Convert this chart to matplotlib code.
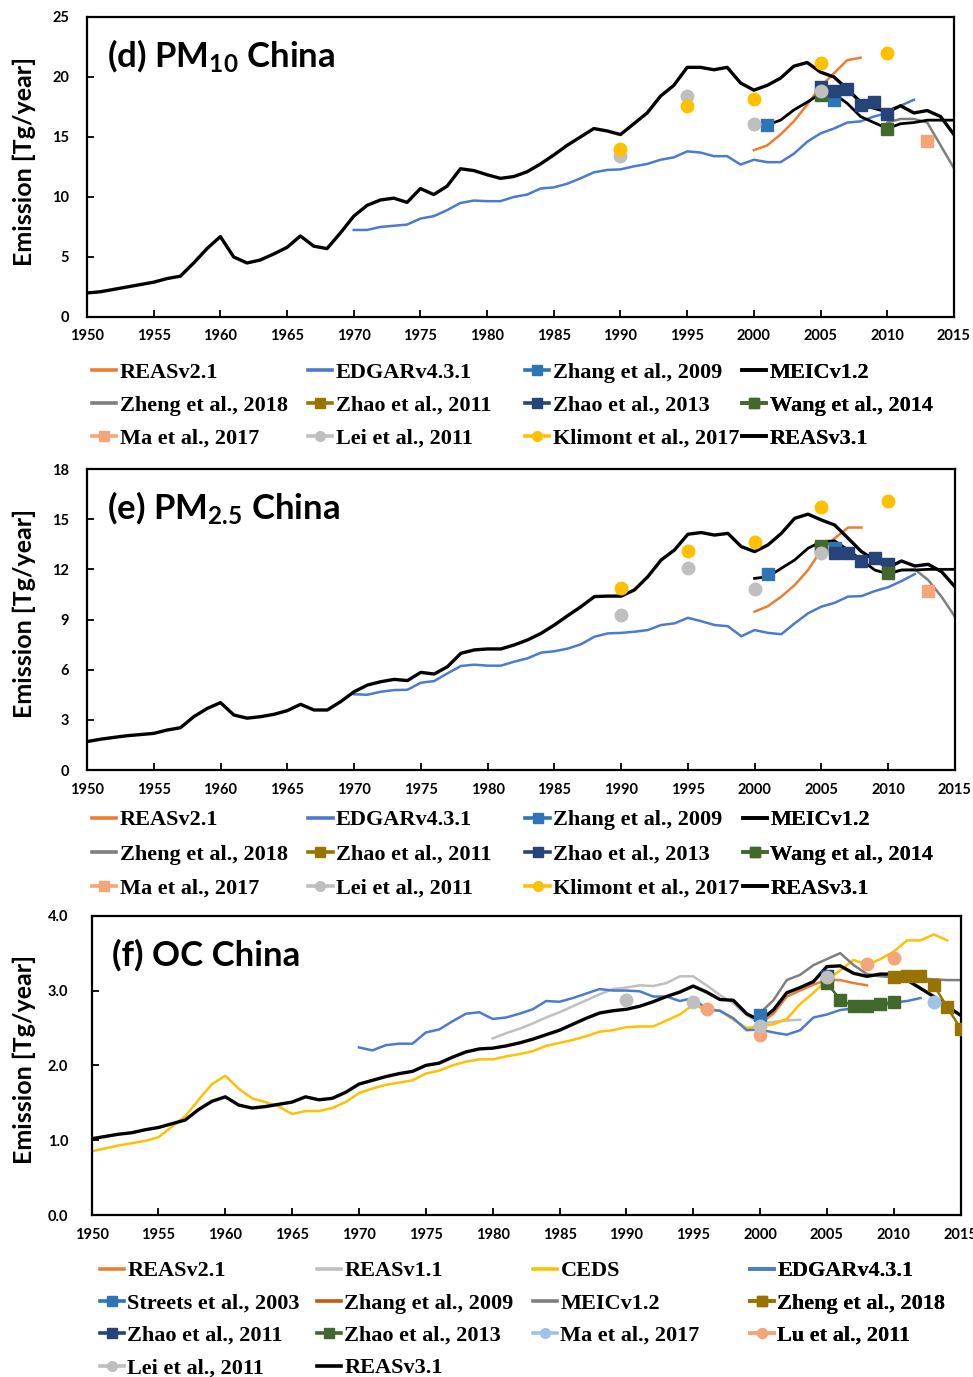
import numpy as np
import matplotlib
matplotlib.use("Agg")
import matplotlib.pyplot as plt
from matplotlib.lines import Line2D

plt.rcParams['font.family'] = ['Lato', 'DejaVu Sans']
plt.rcParams['mathtext.default'] = 'regular'

# Colours (Excel-like palette)
ORANGE = '#ED7D31'
BLUE = '#4A7BD0'
MIDBLUE = '#2E75B6'
NAVY = '#264478'
GREEN = '#43682B'
OLIVE = '#997300'
GRAY = '#7F7F7F'
LGRAY = '#BFBFBF'
YELLOW = '#FFC000'
SALMON = '#F4A57A'
LBLUE = '#9DC3E6'
BROWN = '#C55A11'
BLACK = '#000000'

# ---------------- (d) PM10 ----------------
pm10_reas3_years = list(range(1950, 2016))
pm10_reas3 = [2.0, 2.1, 2.3, 2.5, 2.7, 2.9, 3.2, 3.4, 4.5, 5.7,
              6.7, 5.0, 4.5, 4.75, 5.25, 5.8, 6.75, 5.9, 5.7, 7.0,
              8.4, 9.3, 9.75, 9.9, 9.55, 10.7, 10.2, 10.9, 12.35, 12.2,
              11.85, 11.55, 11.7, 12.1, 12.75, 13.5, 14.3, 15.0, 15.7, 15.5,
              15.2, 16.1, 17.0, 18.4, 19.3, 20.8, 20.8, 20.6, 20.8, 19.5,
              18.9, 19.3, 19.9, 20.9, 21.2, 20.4, 20.0, 19.0, 17.9, 17.4,
              17.1, 17.6, 17.0, 17.2, 16.7, 15.2]
pm10_edgar_years = list(range(1970, 2013))
pm10_edgar = [7.25, 7.25, 7.5, 7.6, 7.7, 8.2, 8.4, 8.9, 9.5, 9.7,
              9.65, 9.65, 10.0, 10.2, 10.7, 10.8, 11.1, 11.55, 12.05, 12.25,
              12.3, 12.55, 12.75, 13.1, 13.3, 13.8, 13.7, 13.4, 13.4, 12.7,
              13.1, 12.9, 12.9, 13.6, 14.6, 15.3, 15.7, 16.2, 16.3, 16.7,
              17.0, 17.6, 18.1]
pm10_reas2_years = list(range(2000, 2009))
pm10_reas2 = [13.9, 14.3, 15.2, 16.3, 17.7, 19.2, 20.3, 21.4, 21.6]
pm10_meic_years = list(range(2000, 2016))
pm10_meic = [16.0, 16.0, 16.4, 17.25, 17.9, 18.6, 18.6, 17.8, 16.7, 16.2,
             15.7, 16.1, 16.2, 16.4, 16.4, 16.4]
pm10_zheng_years = list(range(2010, 2016))
pm10_zheng = [16.2, 16.5, 16.5, 16.2, 14.3, 12.4]
pm10_zhang09_years = [2001, 2006]
pm10_zhang09 = [16.0, 18.1]
pm10_zhao11_years = []
pm10_zhao11 = []
pm10_zhao13_years = [2005, 2006, 2007, 2008, 2009, 2010]
pm10_zhao13 = [19.2, 18.8, 19.0, 17.7, 17.9, 16.9]
pm10_wang14_years = [2005, 2010]
pm10_wang14 = [18.5, 15.7]
pm10_ma17_years = [2013]
pm10_ma17 = [14.7]
pm10_lei11_years = [1990, 1995, 2000, 2005]
pm10_lei11 = [13.45, 18.4, 16.1, 18.8]
pm10_klimont_years = [1990, 1995, 2000, 2005, 2010]
pm10_klimont = [14.0, 17.6, 18.2, 21.2, 22.0]

# ---------------- (e) PM2.5 ----------------
pm25_reas3_years = list(range(1950, 2016))
pm25_reas3 = [1.7, 1.84, 1.95, 2.05, 2.12, 2.19, 2.39, 2.53, 3.19, 3.68,
              4.03, 3.29, 3.1, 3.19, 3.33, 3.55, 3.93, 3.59, 3.59, 4.09,
              4.68, 5.08, 5.28, 5.42, 5.35, 5.84, 5.74, 6.18, 6.98, 7.18,
              7.24, 7.24, 7.48, 7.78, 8.17, 8.67, 9.23, 9.77, 10.37, 10.4,
              10.4, 10.77, 11.56, 12.56, 13.16, 14.1, 14.2, 14.05, 14.15, 13.36,
              13.06, 13.46, 14.15, 15.05, 15.3, 14.95, 14.65, 13.86, 13.06, 12.56,
              12.1, 12.5, 12.2, 12.3, 11.86, 10.96]
pm25_edgar_years = list(range(1970, 2013))
pm25_edgar = [4.53, 4.5, 4.68, 4.78, 4.8, 5.22, 5.32, 5.78, 6.22, 6.3,
              6.24, 6.24, 6.48, 6.68, 7.02, 7.1, 7.26, 7.52, 7.97, 8.17,
              8.2, 8.27, 8.37, 8.67, 8.77, 9.1, 8.9, 8.67, 8.6, 8.0,
              8.37, 8.2, 8.12, 8.77, 9.37, 9.77, 10.0, 10.37, 10.4, 10.7,
              10.93, 11.3, 11.72]
pm25_reas2_years = list(range(2000, 2009))
pm25_reas2 = [9.47, 9.8, 10.37, 11.06, 11.96, 13.16, 13.86, 14.5, 14.5]
pm25_meic_years = list(range(2000, 2016))
pm25_meic = [11.46, 11.56, 12.06, 12.56, 13.26, 13.66, 13.7, 13.16, 12.56, 11.96,
             11.72, 11.96, 11.96, 12.0, 12.0, 12.0]
pm25_zheng_years = list(range(2010, 2016))
pm25_zheng = [11.8, 11.96, 12.0, 11.36, 10.36, 9.17]
pm25_zhang09_years = [2001, 2006]
pm25_zhang09 = [11.7, 13.26]
pm25_zhao11_years = []
pm25_zhao11 = []
pm25_zhao13_years = [2005, 2006, 2007, 2008, 2009, 2010]
pm25_zhao13 = [13.3, 13.0, 13.0, 12.5, 12.7, 12.3]
pm25_wang14_years = [2005, 2010]
pm25_wang14 = [13.4, 11.8]
pm25_ma17_years = [2013]
pm25_ma17 = [10.7]
pm25_lei11_years = [1990, 1995, 2000, 2005]
pm25_lei11 = [9.27, 12.1, 10.8, 12.96]
pm25_klimont_years = [1990, 1995, 2000, 2005, 2010]
pm25_klimont = [10.9, 13.1, 13.66, 15.7, 16.1]

# ---------------- (f) OC ----------------
oc_reas3_years = list(range(1950, 2016))
oc_reas3 = [1.02, 1.05, 1.08, 1.10, 1.14, 1.17, 1.22, 1.27, 1.41, 1.52,
            1.58, 1.47, 1.43, 1.45, 1.48, 1.51, 1.58, 1.54, 1.56, 1.64,
            1.75, 1.80, 1.85, 1.89, 1.92, 2.00, 2.03, 2.11, 2.18, 2.22,
            2.23, 2.26, 2.30, 2.35, 2.41, 2.47, 2.55, 2.63, 2.70, 2.73,
            2.75, 2.79, 2.85, 2.92, 2.98, 3.06, 2.98, 2.88, 2.87, 2.69,
            2.60, 2.74, 2.97, 3.04, 3.12, 3.32, 3.33, 3.23, 3.19, 3.22,
            3.22, 3.14, 3.03, 2.92, 2.79, 2.67]
oc_ceds_years = list(range(1950, 2015))
oc_ceds = [0.85, 0.89, 0.93, 0.96, 0.99, 1.04, 1.18, 1.32, 1.54, 1.75,
           1.86, 1.69, 1.56, 1.51, 1.45, 1.35, 1.39, 1.39, 1.43, 1.51,
           1.63, 1.69, 1.74, 1.77, 1.80, 1.89, 1.93, 2.00, 2.05, 2.08,
           2.08, 2.12, 2.15, 2.19, 2.26, 2.30, 2.34, 2.39, 2.45, 2.47,
           2.51, 2.52, 2.52, 2.60, 2.68, 2.81, 2.74, 2.73, 2.61, 2.50,
           2.52, 2.55, 2.62, 2.82, 2.97, 3.14, 3.27, 3.41, 3.34, 3.42,
           3.52, 3.67, 3.67, 3.75, 3.67]
oc_edgar_years = list(range(1970, 2013))
oc_edgar = [2.24, 2.20, 2.27, 2.29, 2.29, 2.44, 2.48, 2.59, 2.69, 2.71,
            2.62, 2.64, 2.69, 2.75, 2.86, 2.85, 2.90, 2.96, 3.02, 3.00,
            3.00, 2.99, 2.92, 2.92, 2.86, 2.90, 2.75, 2.73, 2.63, 2.47,
            2.48, 2.44, 2.41, 2.47, 2.64, 2.68, 2.74, 2.76, 2.77, 2.79,
            2.84, 2.86, 2.90]
oc_reas1_years = list(range(1980, 2004))
oc_reas1 = [2.36, 2.43, 2.49, 2.56, 2.64, 2.71, 2.79, 2.87, 2.95, 3.02,
            3.04, 3.07, 3.06, 3.10, 3.19, 3.19, 3.07, 2.94, 2.83, 2.67,
            2.56, 2.58, 2.60, 2.61]
oc_meic_years = list(range(2000, 2016))
oc_meic = [2.70, 2.87, 3.14, 3.21, 3.34, 3.42, 3.50, 3.34, 3.22, 3.19,
           3.18, 3.18, 3.16, 3.15, 3.14, 3.14]
oc_reas2_years = list(range(2000, 2009))
oc_reas2 = [2.56, 2.69, 2.92, 3.00, 3.08, 3.14, 3.14, 3.10, 3.07]
oc_zheng_years = list(range(2010, 2016))
oc_zheng = [3.18, 3.19, 3.19, 3.07, 2.78, 2.49]
oc_zhao13_years = list(range(2005, 2011))
oc_zhao13 = [3.10, 2.88, 2.79, 2.79, 2.82, 2.85]
oc_streets_years = [2000]
oc_streets = [2.67]
oc_zhang09_years = []
oc_zhang09 = []
oc_zhao11_years = [2005]
oc_zhao11 = [3.2]
oc_ma17_years = [2013]
oc_ma17 = [2.85]
oc_lu11_years = [1996, 2000, 2008, 2010]
oc_lu11 = [2.76, 2.41, 3.36, 3.44]
oc_lei11_years = [1990, 1995, 2000, 2005]
oc_lei11 = [2.87, 2.85, 2.53, 3.18]

# series: (label, years, values, colour, kind, marker, linewidth)
# kind: 'line', 'pts' (markers only), 'linepts' (markers joined)
d_series = [
    ("REASv2.1", pm10_reas2_years, pm10_reas2, ORANGE, 'line', None, 1.8),
    ("EDGARv4.3.1", pm10_edgar_years, pm10_edgar, BLUE, 'line', None, 1.8),
    ("Zhang et al., 2009", pm10_zhang09_years, pm10_zhang09, MIDBLUE, 'pts', 's', 1.8),
    ("MEICv1.2", pm10_meic_years, pm10_meic, BLACK, 'line', None, 2.0),
    ("Zheng et al., 2018", pm10_zheng_years, pm10_zheng, GRAY, 'line', None, 1.8),
    ("Zhao et al., 2011", pm10_zhao11_years, pm10_zhao11, OLIVE, 'pts', 's', 1.8),
    ("Zhao et al., 2013", pm10_zhao13_years, pm10_zhao13, NAVY, 'pts', 's', 1.8),
    ("Wang et al., 2014", pm10_wang14_years, pm10_wang14, GREEN, 'pts', 's', 1.8),
    ("Ma et al., 2017", pm10_ma17_years, pm10_ma17, SALMON, 'pts', 's', 1.8),
    ("Lei et al., 2011", pm10_lei11_years, pm10_lei11, LGRAY, 'pts', 'o', 1.8),
    ("Klimont et al., 2017", pm10_klimont_years, pm10_klimont, YELLOW, 'pts', 'o', 1.8),
    ("REASv3.1", pm10_reas3_years, pm10_reas3, BLACK, 'line', None, 2.4),
]
e_series = [
    ("REASv2.1", pm25_reas2_years, pm25_reas2, ORANGE, 'line', None, 1.8),
    ("EDGARv4.3.1", pm25_edgar_years, pm25_edgar, BLUE, 'line', None, 1.8),
    ("Zhang et al., 2009", pm25_zhang09_years, pm25_zhang09, MIDBLUE, 'pts', 's', 1.8),
    ("MEICv1.2", pm25_meic_years, pm25_meic, BLACK, 'line', None, 2.0),
    ("Zheng et al., 2018", pm25_zheng_years, pm25_zheng, GRAY, 'line', None, 1.8),
    ("Zhao et al., 2011", pm25_zhao11_years, pm25_zhao11, OLIVE, 'pts', 's', 1.8),
    ("Zhao et al., 2013", pm25_zhao13_years, pm25_zhao13, NAVY, 'pts', 's', 1.8),
    ("Wang et al., 2014", pm25_wang14_years, pm25_wang14, GREEN, 'pts', 's', 1.8),
    ("Ma et al., 2017", pm25_ma17_years, pm25_ma17, SALMON, 'pts', 's', 1.8),
    ("Lei et al., 2011", pm25_lei11_years, pm25_lei11, LGRAY, 'pts', 'o', 1.8),
    ("Klimont et al., 2017", pm25_klimont_years, pm25_klimont, YELLOW, 'pts', 'o', 1.8),
    ("REASv3.1", pm25_reas3_years, pm25_reas3, BLACK, 'line', None, 2.4),
]
f_series = [
    ("REASv2.1", oc_reas2_years, oc_reas2, ORANGE, 'line', None, 1.8),
    ("REASv1.1", oc_reas1_years, oc_reas1, LGRAY, 'line', None, 1.8),
    ("CEDS", oc_ceds_years, oc_ceds, YELLOW, 'line', None, 1.8),
    ("EDGARv4.3.1", oc_edgar_years, oc_edgar, BLUE, 'line', None, 1.8),
    ("Streets et al., 2003", oc_streets_years, oc_streets, MIDBLUE, 'pts', 's', 1.8),
    ("Zhang et al., 2009", oc_zhang09_years, oc_zhang09, BROWN, 'line', None, 1.8),
    ("MEICv1.2", oc_meic_years, oc_meic, GRAY, 'line', None, 1.8),
    ("Zheng et al., 2018", oc_zheng_years, oc_zheng, OLIVE, 'linepts', 's', 1.8),
    ("Zhao et al., 2011", oc_zhao11_years, oc_zhao11, NAVY, 'pts', 's', 1.8),
    ("Zhao et al., 2013", oc_zhao13_years, oc_zhao13, GREEN, 'linepts', 's', 1.8),
    ("Ma et al., 2017", oc_ma17_years, oc_ma17, LBLUE, 'pts', 'o', 1.8),
    ("Lu et al., 2011", oc_lu11_years, oc_lu11, SALMON, 'pts', 'o', 1.8),
    ("Lei et al., 2011", oc_lei11_years, oc_lei11, LGRAY, 'pts', 'o', 1.8),
    ("REASv3.1", oc_reas3_years, oc_reas3, BLACK, 'line', None, 2.4),
]

LEGEND_FONT = dict(family=['Liberation Serif', 'DejaVu Serif'], weight='bold', size=16)


def draw_panel(ax, series, yticks, yfmt, title, ypad, label_x, col_x, leg_top, leg_gap):
    handles = []
    for label, yrs, vals, col, kind, mk, lw in series:
        if kind == 'line':
            z = 3 if col == BLACK else 2
            ax.plot(yrs, vals, color=col, lw=lw, zorder=z, solid_joinstyle='round')
            handles.append(Line2D([], [], color=col, lw=2.6))
        else:
            ls = '-' if kind == 'linepts' else 'none'
            ax.plot(yrs, vals, color=col, lw=lw, ls=ls, marker=mk, ms=9,
                    mec=col, mfc=col, zorder=4)
            handles.append(Line2D([], [], color=col, lw=2.6, marker=mk, ms=7))

    ax.set_xlim(1950, 2015)
    ax.set_ylim(yticks[0], yticks[-1])
    ax.set_xticks(range(1950, 2016, 5))
    ax.set_yticks(yticks)
    ax.set_yticklabels([yfmt.format(v) for v in yticks])
    ax.tick_params(direction='in', length=5, width=1.3, labelsize=10.5)
    ax.tick_params(axis='x', pad=9)
    ax.tick_params(axis='y', pad=ypad)
    for lab in ax.get_xticklabels() + ax.get_yticklabels():
        lab.set_fontweight('bold')
    for sp in ax.spines.values():
        sp.set_linewidth(1.6)

    ax.set_ylabel("Emission [Tg/year]", fontsize=18, fontweight='bold')
    ax.yaxis.set_label_coords(label_x, 0.52)
    ax.text(0.023, 0.835, title, transform=ax.transAxes, fontsize=25,
            fontweight='bold', va='baseline', ha='left')

    # legend laid out as fixed-width columns, read row by row
    labels = [s[0] for s in series]
    ncol = len(col_x)
    for c, x0 in enumerate(col_x):
        idx = list(range(c, len(labels), ncol))
        leg = ax.legend([handles[i] for i in idx], [labels[i] for i in idx],
                        loc='upper left', bbox_to_anchor=(x0, leg_top),
                        frameon=False, prop=LEGEND_FONT, handlelength=1.1,
                        handletextpad=0.15, labelspacing=leg_gap,
                        borderpad=0, borderaxespad=0)
        ax.add_artist(leg)


fig = plt.figure(figsize=(9.73, 13.77), dpi=100)
ax_d = fig.add_axes([0.0894, 0.7698, 0.891, 0.2179])
ax_e = fig.add_axes([0.0894, 0.4408, 0.892, 0.2186])
ax_f = fig.add_axes([0.0942, 0.1176, 0.893, 0.2174])

de_cols = [5 / 867, 221 / 867, 438 / 867, 655 / 867]
f_cols = [8 / 869, 225 / 869, 441 / 869, 658 / 869]

draw_panel(ax_d, d_series, [0, 5, 10, 15, 20, 25], "{:.0f}",
           "(d) PM$_{10}$ China", 13, -0.059, de_cols, -0.152, 0.55)
draw_panel(ax_e, e_series, [0, 3, 6, 9, 12, 15, 18], "{:.0f}",
           "(e) PM$_{2.5}$ China", 13, -0.059, de_cols, -0.132, 0.62)
draw_panel(ax_f, f_series, [0.0, 1.0, 2.0, 3.0, 4.0], "{:.1f}",
           "(f) OC China", 17, -0.064, f_cols, -0.153, 0.53)

fig.savefig("out.png", dpi=100)
